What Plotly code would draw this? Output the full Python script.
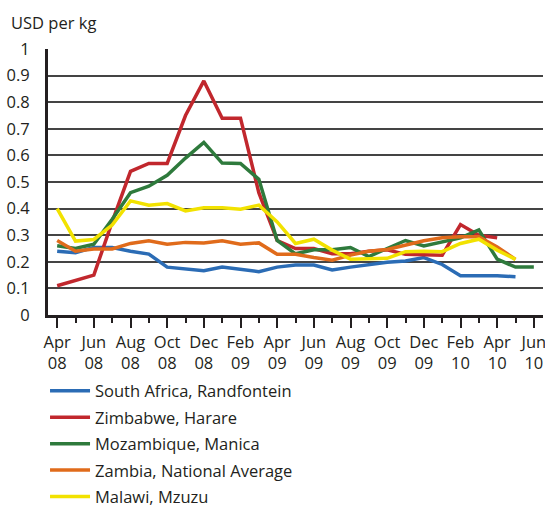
import plotly.graph_objects as go

months = ["Apr 08","May 08","Jun 08","Jul 08","Aug 08","Sep 08","Oct 08","Nov 08","Dec 08",
          "Jan 09","Feb 09","Mar 09","Apr 09","May 09","Jun 09","Jul 09","Aug 09","Sep 09",
          "Oct 09","Nov 09","Dec 09","Jan 10","Feb 10","Mar 10","Apr 10","May 10","Jun 10"]

south_africa = [0.24,0.234,0.254,0.254,0.24,0.229,0.18,0.173,0.166,0.18,0.173,0.163,
                0.18,0.188,0.188,0.169,0.18,0.19,0.198,0.203,0.216,0.19,0.148,0.148,0.148,0.144,None]
zimbabwe = [0.11,0.13,0.15,0.35,0.54,0.57,0.57,0.75,0.88,0.74,0.74,0.46,
            0.28,0.25,0.25,0.23,0.23,0.24,0.245,0.228,0.225,0.225,0.34,0.30,0.29,None,None]
mozambique = [0.26,0.25,0.266,0.36,0.46,0.484,0.525,0.59,0.649,0.571,0.57,0.51,
              0.28,0.23,0.245,0.245,0.254,0.22,0.25,0.28,0.26,0.275,0.29,0.32,0.21,0.18,0.18]
zambia = [0.28,0.24,0.248,0.248,0.269,0.279,0.266,0.273,0.271,0.279,0.266,0.271,
          0.228,0.228,0.216,0.206,0.225,0.24,0.246,0.263,0.279,0.29,0.294,0.294,0.256,0.209,None]
malawi = [0.40,0.278,0.284,0.338,0.429,0.413,0.419,0.391,0.403,0.403,0.398,0.413,
          0.35,0.269,0.285,0.244,0.21,0.21,0.213,0.238,0.24,0.238,0.269,0.285,0.244,0.209,None]

series = [
    ("South Africa, Randfontein", south_africa, "#2b6cb5"),
    ("Zimbabwe, Harare", zimbabwe, "#c1272d"),
    ("Mozambique, Manica", mozambique, "#2e7a3c"),
    ("Zambia, National Average", zambia, "#e06b1b"),
    ("Malawi, Mzuzu", malawi, "#f2e200"),
]

x = list(range(len(months)))
tickvals = x[::2]
ticktext = [m.replace(" ", "<br>") for m in months[::2]]

fig = go.Figure()
for i, (name, vals, col) in enumerate(series):
    fig.add_trace(go.Scatter(x=x, y=vals, mode="lines", name=name,
                             line=dict(color=col, width=3.5), legendgroup=str(i)))

font = "Open Sans, Noto Sans, sans-serif"
fs = 16.5
fig.update_layout(
    width=545, height=506,
    margin=dict(l=48, r=2, t=49, b=191, autoexpand=False),
    paper_bgcolor="white", plot_bgcolor="white",
    font=dict(family=font, size=fs, color="#231f20"),
    showlegend=True,
    legend=dict(x=-0.006, y=-0.22, xanchor="left", yanchor="top",
                font=dict(size=fs), tracegroupgap=2, itemwidth=40,
                bgcolor="rgba(0,0,0,0)"),
    annotations=[dict(text="USD per kg", xref="paper", yref="paper", x=-0.079, y=1.1,
                      xanchor="left", yanchor="middle", showarrow=False,
                      font=dict(size=fs, family=font, color="#231f20"))],
)
fig.update_xaxes(range=[-0.5, 26.5], tickvals=tickvals, ticktext=ticktext,
                 ticklabeloverflow="allow",
                 showline=True, linewidth=3, linecolor="#231f20",
                 ticks="outside", ticklen=10, tickwidth=2, tickcolor="#231f20",
                 minor=dict(dtick=1, tick0=0, ticks="outside", ticklen=5, tickwidth=2,
                            tickcolor="#231f20", showgrid=False),
                 showgrid=False, zeroline=False, tickfont=dict(size=fs))
fig.update_yaxes(range=[0, 1], dtick=0.1, tick0=0, tickformat="~g",
                 showline=True, linewidth=3, linecolor="#231f20",
                 showgrid=True, gridcolor="#444444", gridwidth=1.5,
                 zeroline=False, ticks="", ticklabelstandoff=12, tickfont=dict(size=fs))

fig.write_html("out.html", config={"displayModeBar": False},
               post_script="document.body.style.margin='0';document.body.style.overflow='hidden';")
